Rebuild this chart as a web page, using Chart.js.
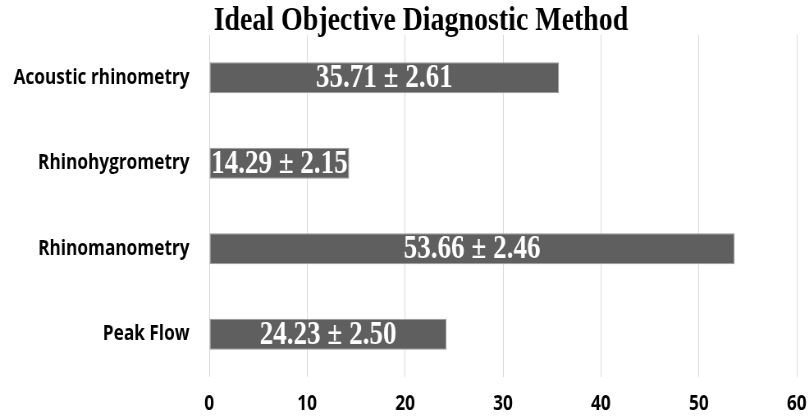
<!DOCTYPE html>
<html lang="en">
<head>
  <meta charset="UTF-8">
  <title>Ideal Objective Diagnostic Method</title>
  <script src="https://cdn.jsdelivr.net/npm/chart.js@4.4.0/dist/chart.umd.min.js"></script>
  <style>
    html, body {
      margin: 0;
      padding: 0;
      background: #fff;
      overflow: hidden;
    }
    /* the source picture is squeezed sideways, so draw wide and squeeze */
    #wrap {
      width: 986px;
      height: 416px;
      transform: scaleX(0.8205);
      transform-origin: 0 0;
    }
  </style>
</head>
<body>
  <div id="wrap"><canvas id="chart" width="986" height="416"></canvas></div>
  <script>
    const chartTitle = 'Ideal Objective Diagnostic Method';
    const methods = ['Acoustic rhinometry', 'Rhinohygrometry', 'Rhinomanometry', 'Peak Flow'];
    const means = [35.71, 14.29, 53.66, 24.23];
    const sds = [2.61, 2.15, 2.46, 2.50];
    const xTicks = [0, 10, 20, 30, 40, 50, 60];

    // title + labels inside the bars
    const textPlugin = {
      id: 'textPlugin',
      afterDatasetsDraw(chart) {
        const ctx = chart.ctx;
        ctx.save();
        ctx.textAlign = 'center';
        ctx.textBaseline = 'middle';
        ctx.fillStyle = '#000';
        ctx.font = 'bold 34px "Liberation Serif", "Times New Roman", serif';
        ctx.fillText(chartTitle, 513, 21);

        ctx.fillStyle = '#fff';
        ctx.font = 'bold 33px "Liberation Serif", "Times New Roman", serif';
        const meta = chart.getDatasetMeta(0);
        meta.data.forEach((bar, i) => {
          const txt = means[i].toFixed(2) + ' \u00b1 ' + sds[i].toFixed(2);
          const cx = (bar.base + bar.x) / 2;
          ctx.fillText(txt, cx, bar.y + 1);
        });
        ctx.restore();
      }
    };

    new Chart(document.getElementById('chart'), {
      type: 'bar',
      data: {
        labels: methods,
        datasets: [{
          data: means,
          backgroundColor: '#5f5f5f',
          borderColor: '#9a9a9a',
          borderWidth: 1,
          borderSkipped: false,
          barPercentage: 0.36,
          categoryPercentage: 1
        }]
      },
      options: {
        indexAxis: 'y',
        responsive: false,
        animation: false,
        devicePixelRatio: 1,
        layout: {
          padding: { top: 35, right: 15, bottom: 1, left: 0 }
        },
        plugins: {
          legend: { display: false },
          title: { display: false },
          tooltip: { enabled: false }
        },
        scales: {
          x: {
            min: 0,
            max: 60,
            afterBuildTicks(scale) {
              scale.ticks = xTicks.map(v => ({ value: v }));
            },
            afterFit(scale) {
              scale.height = 38;
              scale.paddingLeft = 0;
              scale.paddingRight = 0;
            },
            grid: {
              color: '#d9d9d9',
              drawTicks: false
            },
            border: { display: false },
            ticks: {
              color: '#000',
              padding: 17,
              font: { family: '"Open Sans", sans-serif', size: 21, weight: 'bold', lineHeight: 1 }
            }
          },
          y: {
            afterFit(scale) {
              scale.width = 255;
              scale.paddingTop = 0;
              scale.paddingBottom = 0;
            },
            grid: { display: false, drawTicks: false },
            border: { display: false },
            ticks: {
              color: '#000',
              padding: 24,
              font: { family: '"Open Sans", sans-serif', size: 21, weight: 'bold' }
            }
          }
        }
      },
      plugins: [textPlugin]
    });
  </script>
</body>
</html>
